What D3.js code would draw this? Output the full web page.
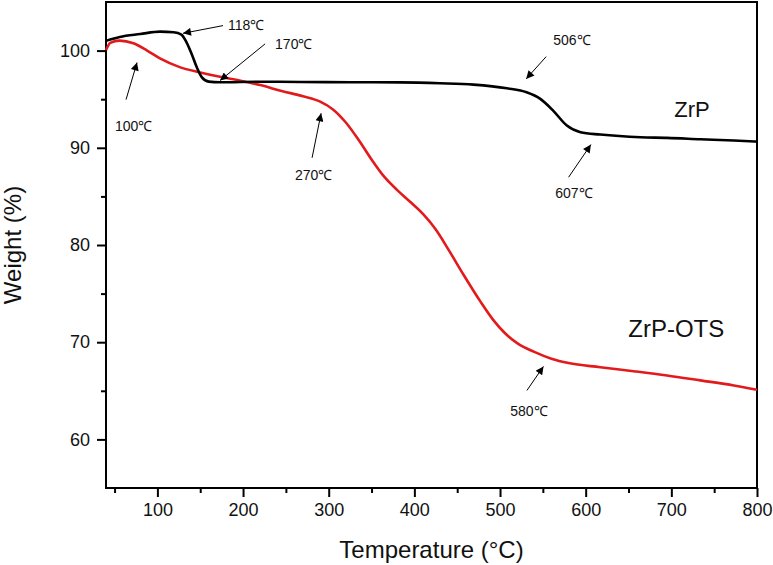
<!DOCTYPE html>
<html><head><meta charset="utf-8">
<script src="https://cdn.jsdelivr.net/npm/d3@7"></script>
<style>
html,body{margin:0;padding:0;background:#fff;}
svg{display:block;font-family:"Liberation Sans",Arial,Helvetica,sans-serif;}
</style></head>
<body>
<svg id="chart" width="773" height="565"></svg>
<script>
// ---- data ----
const zrpTemp = [40,56,80,103,119,128,134,140,146,152,160,173,220,267,325,383,430,469,508,531,547,562,578,594,617,664,695,734,773,800];
const zrpWeight = [101.0,101.4,101.7,101.95,101.88,101.65,100.85,99.66,98.28,97.25,96.81,96.74,96.8,96.77,96.75,96.73,96.64,96.5,96.12,95.71,95.03,93.83,92.29,91.6,91.36,91.08,91.02,90.88,90.75,90.64];
const otsTemp = [40,45,56,72,88,103,126,150,173,197,220,245,270,290,305,320,335,350,365,380,395,410,425,440,457,477,492,505,520,540,560,580,617,656,695,734,773,800];
const otsWeight = [100.05,100.8,101.03,100.75,100.0,99.2,98.3,97.75,97.3,96.9,96.45,95.85,95.3,94.75,93.95,92.6,90.8,88.8,87.0,85.65,84.45,83.2,81.6,79.5,77.0,74.2,72.3,71.0,69.9,69.0,68.3,67.85,67.43,67.02,66.58,66.07,65.55,65.11];
const xMajorTicks = [100,200,300,400,500,600,700,800];
const xMinorTicks = [50,150,250,350,450,550,650,750];
const yMajorTicks = [60,70,80,90,100];
const yMinorTicks = [65,75,85,95];
// annotations: label, label anchor (T,W), arrow tail (T,W), arrow tip (T,W)
const annLabels = ["118℃","170℃","100℃","270℃","506℃","607℃","580℃"];
const annLabelT = [182.5,237.4,50.5,260.7,562.1,564.4,511.9];
const annLabelW = [102.16,100.15,91.72,86.68,100.57,84.88,62.42];
const annTailT = [176.6,225.7,63.4,280.6,553.9,580.0,531.4];
const annTailW = [102.57,100.69,94.96,88.97,99.38,86.97,65.04];
const annTipT = [129.9,173.1,76.2,291.1,530.5,606.1,550.7];
const annTipW = [101.78,96.92,98.77,93.55,97.09,90.33,67.51];
const seriesNames = ["ZrP","ZrP-OTS"];
const seriesLabelT = [703.4,649.7];
const seriesLabelW = [93.21,70.49];

// ---- layout ----
const svg = d3.select("#chart");
const L = 106, R = 757, T0 = 2, B = 488;
const x = d3.scaleLinear().domain([40,800]).range([L,R]);
const y = d3.scaleLinear().domain([55,105]).range([B,T0]);

// axes
const gx = svg.append("g").attr("transform",`translate(0,${B})`);
gx.call(d3.axisBottom(x).tickValues(xMajorTicks).tickSize(9).tickPadding(6).tickFormat(d3.format("d")));
const gxm = svg.append("g").attr("transform",`translate(0,${B})`);
gxm.call(d3.axisBottom(x).tickValues(xMinorTicks).tickSize(5).tickFormat(""));
const gy = svg.append("g").attr("transform",`translate(${L},0)`);
gy.call(d3.axisLeft(y).tickValues(yMajorTicks).tickSize(9).tickPadding(7).tickFormat(d3.format("d")));
const gym = svg.append("g").attr("transform",`translate(${L},0)`);
gym.call(d3.axisLeft(y).tickValues(yMinorTicks).tickSize(5).tickFormat(""));
[gx,gxm,gy,gym].forEach(g=>{
  g.select(".domain").remove();
  g.selectAll("line").attr("stroke","#000").attr("stroke-width",2);
  g.selectAll("text").attr("fill","#111").style("font-size","18px").style("font-family","'Liberation Sans',Arial,sans-serif");
});

// frame
svg.append("rect").attr("x",L).attr("y",T0).attr("width",R-L).attr("height",B-T0)
  .attr("fill","none").attr("stroke","#000").attr("stroke-width",2);

// curves
const line = d3.line().x(d=>x(d[0])).y(d=>y(d[1])).curve(d3.curveMonotoneX);
svg.append("path").datum(otsTemp.map((t,i)=>[t,otsWeight[i]]))
  .attr("d",line).attr("fill","none").attr("stroke","#e31a1c").attr("stroke-width",2.6);
svg.append("path").datum(zrpTemp.map((t,i)=>[t,zrpWeight[i]]))
  .attr("d",line).attr("fill","none").attr("stroke","#000").attr("stroke-width",2.6);

// arrow marker
svg.append("defs").append("marker").attr("id","ah").attr("viewBox","0 0 10 10")
  .attr("refX",10).attr("refY",5).attr("markerWidth",11).attr("markerHeight",8)
  .attr("markerUnits","userSpaceOnUse").attr("orient","auto")
  .append("path").attr("d","M0,0L10,5L0,10Z").attr("fill","#000");

annLabels.forEach((lab,i)=>{
  svg.append("line")
    .attr("x1",x(annTailT[i])).attr("y1",y(annTailW[i]))
    .attr("x2",x(annTipT[i])).attr("y2",y(annTipW[i]))
    .attr("stroke","#000").attr("stroke-width",1).attr("marker-end","url(#ah)");
  svg.append("text").attr("x",x(annLabelT[i])).attr("y",y(annLabelW[i]))
    .attr("fill","#111").style("font-size","14px").text(lab);
});

seriesNames.forEach((n,i)=>{
  svg.append("text").attr("x",x(seriesLabelT[i])).attr("y",y(seriesLabelW[i]))
    .attr("fill","#111").style("font-size", i===0 ? "22px" : "24px").text(n);
});

// axis titles
svg.append("text").attr("x",(L+R)/2).attr("y",558).attr("text-anchor","middle")
  .attr("fill","#111").style("font-size","24px").text("Temperature (°C)");
svg.append("text").attr("transform",`translate(21,${(T0+B)/2}) rotate(-90)`)
  .attr("text-anchor","middle").attr("fill","#111").style("font-size","24px").text("Weight (%)");
</script>
</body></html>
